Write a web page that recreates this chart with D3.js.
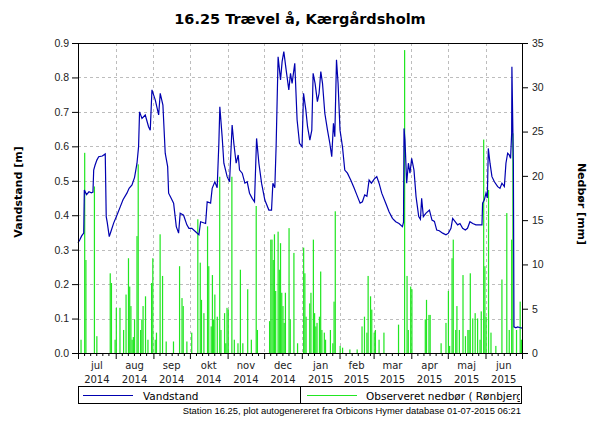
<!DOCTYPE html>
<html>
<head>
<meta charset="utf-8">
<script src="https://cdn.jsdelivr.net/npm/d3@7"></script>
<style>
body { margin: 0; background: #fff; }
svg { font-family: "DejaVu Sans", Verdana, sans-serif; }
</style>
</head>
<body>
<div id="chart"></div>
<script>
// water level, day offset from 1 jul 2014 -> metres
var levelDay = [0, 1.4, 3, 4.7, 5.2, 7, 9, 11, 12.3, 12.9, 14, 15.5, 17, 20, 22.4, 23.2, 24, 25.7, 27, 29.3,
  32, 34.8, 37, 40.2, 42, 44.4, 46.5, 48.5, 49.8, 50.6, 52.6, 55.3, 58, 59.4, 60.8, 63.5, 66.3, 67.6, 69.8, 71.7,
  73.7, 74.5, 76.5, 78.6, 80.8, 82.7, 84, 86.8, 89.5, 91.2, 93.6, 96.7, 99.4, 100.8, 104.9, 106.2, 109, 110.3, 112.5, 114.4,
  115.8, 116.6, 118.5, 119.9, 122.6, 124.6, 126.7, 128.1, 130, 131.7, 132.8, 135, 137.2, 139.1, 141, 143.2, 145.1, 146.8, 148.7, 150.9,
  153.6, 156.9, 159.1, 160.2, 161.8, 162.9, 164.5, 166.5, 167.8, 169.2, 171.1, 173.3, 174.7, 176, 178.2, 180.1, 182.1, 184.2, 185.4, 187.3,
  188.7, 190.6, 192.2, 193.3, 194.9, 196.8, 198.2, 199.6, 201, 202.9, 205.1, 207, 208.6, 210, 211.1, 212.5, 213.8, 215.4, 217.4, 219.3,
  221.5, 224.2, 226.9, 229.2, 231.9, 233.8, 235.7, 237.5, 239.3, 241.2, 243.5, 245.6, 247.5, 249.7, 253, 255.7, 258.5, 261.2, 263.9, 266.7,
  267.6, 268, 268.8, 270.2, 271.6, 272.9, 274.3, 276.2, 277.9, 280.1, 281.5, 282.5, 283.9, 286.1, 288.9, 291, 293, 294.9, 297, 299.8,
  302.5, 304.5, 306.6, 308, 310.2, 312.1, 314, 316.2, 318.4, 320.2, 322.2, 324.5, 327.1, 329.5, 332.1, 332.6, 334, 335.4, 336.5, 337.3,
  338.7, 340.3, 342.3, 345, 346.9, 348.5, 350.5, 351.8, 353.2, 354.5, 355.6, 356.5, 356.7, 357.9, 358.4, 360, 361.4, 363, 365]
var levelVal = [0.320, 0.328, 0.340, 0.348, 0.473, 0.460, 0.468, 0.465, 0.467, 0.531, 0.545, 0.560, 0.570, 0.572, 0.578, 0.396, 0.380, 0.338, 0.352, 0.377,
  0.400, 0.425, 0.445, 0.464, 0.478, 0.488, 0.510, 0.551, 0.599, 0.700, 0.681, 0.691, 0.657, 0.647, 0.764, 0.735, 0.691, 0.754, 0.720, 0.580,
  0.541, 0.464, 0.450, 0.435, 0.367, 0.348, 0.406, 0.400, 0.372, 0.362, 0.362, 0.352, 0.343, 0.381, 0.376, 0.439, 0.435, 0.478, 0.497, 0.480,
  0.609, 0.715, 0.628, 0.551, 0.512, 0.497, 0.662, 0.609, 0.551, 0.575, 0.531, 0.522, 0.493, 0.497, 0.464, 0.449, 0.439, 0.623, 0.551, 0.493,
  0.444, 0.415, 0.415, 0.493, 0.480, 0.604, 0.860, 0.793, 0.846, 0.875, 0.822, 0.764, 0.812, 0.783, 0.841, 0.677, 0.609, 0.599, 0.754, 0.706,
  0.657, 0.618, 0.647, 0.812, 0.783, 0.730, 0.754, 0.817, 0.783, 0.696, 0.647, 0.609, 0.570, 0.667, 0.628, 0.851, 0.783, 0.647, 0.599, 0.531,
  0.522, 0.502, 0.480, 0.459, 0.435, 0.439, 0.459, 0.455, 0.502, 0.493, 0.505, 0.512, 0.493, 0.464, 0.435, 0.410, 0.391, 0.381, 0.376, 0.367,
  0.380, 0.652, 0.618, 0.493, 0.551, 0.522, 0.565, 0.531, 0.454, 0.396, 0.388, 0.449, 0.396, 0.406, 0.415, 0.386, 0.382, 0.357, 0.355, 0.348,
  0.343, 0.348, 0.362, 0.391, 0.381, 0.372, 0.376, 0.362, 0.357, 0.362, 0.381, 0.376, 0.372, 0.372, 0.372, 0.435, 0.444, 0.464, 0.450, 0.594,
  0.551, 0.512, 0.497, 0.483, 0.478, 0.493, 0.483, 0.551, 0.580, 0.575, 0.565, 0.638, 0.831, 0.551, 0.076, 0.073, 0.076, 0.074, 0.072]

// observed precipitation, day offset -> mm
var rainDay = [2, 5, 6, 13, 15, 26, 27, 30, 31, 34, 37, 39, 41, 42, 43, 44, 45, 46, 48, 49,
  51, 52, 53, 55, 57, 60, 61, 63, 64, 67, 69, 72, 78, 83, 85, 86, 89, 93, 98, 100,
  101, 103, 106, 107, 109, 110, 111, 112, 114, 116, 117, 120, 121, 122, 123, 126, 128, 131, 133, 135,
  139, 142, 146, 147, 157, 158, 159, 160, 161, 162, 164, 165, 166, 167, 168, 169, 170, 173, 174, 177,
  180, 185, 186, 187, 190, 191, 193, 194, 195, 196, 198, 199, 200, 202, 203, 207, 209, 210, 211, 215,
  217, 223, 229, 233, 235, 237, 238, 240, 241, 243, 244, 247, 251, 263, 268, 270, 271, 273, 274, 285,
  286, 288, 289, 298, 302, 304, 305, 307, 308, 310, 311, 313, 316, 318, 320, 321, 322, 324, 326, 328,
  330, 331, 333, 334, 335, 337, 339, 343, 348, 352, 354, 356, 357, 360, 363, 364]
var rainMm = [1.5, 22.6, 10.5, 18.8, 1.9, 9.0, 7.9, 1.5, 5.1, 5.1, 2.6, 6.6, 10.7, 7.5, 5.3, 1.5, 1.8, 3.8, 13.2, 21.3,
  2.6, 3.8, 5.3, 6.4, 1.5, 7.9, 10.7, 1.5, 2.3, 13.4, 8.7, 1.3, 1.3, 9.8, 6.2, 5.3, 1.3, 2.3, 15.1, 10.2,
  6.0, 4.5, 14.3, 9.8, 3.0, 8.8, 3.8, 6.6, 4.1, 19.9, 2.6, 4.5, 1.1, 5.1, 4.9, 19.9, 1.5, 1.1, 9.4, 1.1,
  7.2, 1.5, 16.6, 2.6, 3.6, 12.8, 12.8, 10.5, 13.4, 7.0, 13.7, 9.4, 12.4, 6.8, 5.3, 3.4, 6.8, 14.1, 3.8, 11.3,
  1.1, 11.9, 9.0, 4.1, 5.6, 6.8, 12.8, 4.5, 3.0, 3.4, 4.1, 9.2, 2.6, 2.3, 1.5, 2.6, 1.1, 5.8, 16.0, 0.8,
  0.6, 0.4, 0.4, 3.0, 4.1, 2.3, 8.7, 6.4, 4.9, 2.3, 2.6, 1.5, 2.3, 3.2, 34.2, 8.7, 2.6, 7.5, 7.2, 3.8,
  6.0, 4.3, 4.3, 1.1, 3.4, 7.0, 0.8, 10.7, 12.8, 2.6, 5.3, 2.6, 8.8, 1.9, 2.6, 2.6, 9.0, 3.9, 4.5, 3.9,
  1.5, 4.7, 24.1, 9.8, 4.1, 18.4, 2.3, 0.8, 8.3, 15.8, 2.6, 12.8, 24.8, 2.6, 5.8, 1.5]

var monthNames = ["jul", "aug", "sep", "okt", "nov", "dec", "jan", "feb", "mar", "apr", "maj", "jun"]
var levelTicks = [0, 0.1, 0.2, 0.3, 0.4, 0.5, 0.6, 0.7, 0.8, 0.9]
var rainTicks = [0, 5, 10, 15, 20, 25, 30, 35]

var start = new Date(2014, 6, 1)
var end = new Date(2015, 6, 1)
var margin = { top: 43, bottom: 72, left: 78, right: 78 }
var W = 600, H = 425
var plotBottom = H - margin.bottom

var svg = d3.select("#chart").append("svg").attr("width", W).attr("height", H)

var x = d3.scaleTime().domain([start, end]).range([margin.left, W - margin.right])
var y = d3.scaleLinear().domain([0, 0.9]).range([plotBottom, margin.top])
var yR = d3.scaleLinear().domain([0, 35]).range([plotBottom, margin.top])

function dayDate(d) {
    return new Date(start.getTime() + d * 86400000)
}

// grid
var months = d3.timeMonth.range(start, end)
svg.append("g").selectAll("line").data(levelTicks.slice(1, -1)).enter().append("line")
    .attr("x1", margin.left).attr("x2", W - margin.right)
    .attr("y1", function(d) { return Math.round(y(d)) + 0.5 }).attr("y2", function(d) { return Math.round(y(d)) + 0.5 })
    .style("stroke", "#bdbdbd").style("stroke-dasharray", "3,3")
svg.append("g").selectAll("line").data(months.slice(1)).enter().append("line")
    .attr("x1", function(d) { return Math.round(x(d)) + 0.5 }).attr("x2", function(d) { return Math.round(x(d)) + 0.5 })
    .attr("y1", margin.top).attr("y2", plotBottom)
    .style("stroke", "#bdbdbd").style("stroke-dasharray", "3,3")

// rain bars
svg.append("g").selectAll("rect").data(rainDay).enter().append("rect")
    .attr("x", function(d) { return x(dayDate(d)) })
    .attr("width", function(d) { return x(dayDate(d + 1)) - x(dayDate(d)) })
    .attr("y", function(d, i) { return yR(rainMm[i]) })
    .attr("height", function(d, i) { return plotBottom - yR(rainMm[i]) })
    .style("fill", "#22e622")

// water level line
var line = d3.line()
    .x(function(d) { return x(dayDate(d)) })
    .y(function(d, i) { return y(levelVal[i]) })
svg.append("path").datum(levelDay).attr("d", line)
    .style("fill", "none").style("stroke", "#0000b0").style("stroke-width", 1.2)

// axes
var yAxis = svg.append("g").attr("transform", "translate(" + margin.left + ",0)")
    .call(d3.axisLeft(y).tickValues(levelTicks).tickFormat(d3.format(".1f")).tickSize(6).tickPadding(3))
var yAxisR = svg.append("g").attr("transform", "translate(" + (W - margin.right) + ",0)")
    .call(d3.axisRight(yR).tickValues(rainTicks).tickSize(6).tickPadding(4))
var minor = []
months.forEach(function(m) {
    [6, 11, 16, 21, 26].forEach(function(d) { minor.push(new Date(m.getFullYear(), m.getMonth(), d)) })
})
svg.append("g").attr("transform", "translate(0," + plotBottom + ")")
    .call(d3.axisBottom(x).tickValues(minor).tickSize(3).tickFormat(""))
var xAxis = svg.append("g").attr("transform", "translate(0," + plotBottom + ")")
    .call(d3.axisBottom(x).tickValues(months.concat([end])).tickSize(6).tickFormat(""))
svg.selectAll(".domain").style("stroke", "#000")
svg.selectAll(".tick line").style("stroke", "#000")
svg.selectAll(".tick text").style("font-size", "10.5px").style("fill", "#222")

// plot frame top
svg.append("line").attr("x1", margin.left).attr("x2", W - margin.right)
    .attr("y1", margin.top + 0.5).attr("y2", margin.top + 0.5).style("stroke", "#000")

// month labels
var lab = svg.append("g").selectAll("text").data(months).enter().append("text")
    .attr("text-anchor", "middle")
    .attr("x", function(d) { return (x(d) + x(d3.timeMonth.offset(d, 1))) / 2 })
    .style("font-size", "10px").style("fill", "#222")
lab.append("tspan").attr("y", 369).text(function(d, i) { return monthNames[i] })
lab.append("tspan").attr("y", 383)
    .attr("x", function(d) { return (x(d) + x(d3.timeMonth.offset(d, 1))) / 2 })
    .text(function(d) { return d.getFullYear() })

// titles
svg.append("text").attr("x", 300).attr("y", 24).attr("text-anchor", "middle")
    .style("font-size", "14.5px").style("font-weight", "bold").text("16.25 Trævel å, Kærgårdsholm")
svg.append("text").attr("transform", "translate(22,192) rotate(-90)").attr("text-anchor", "middle")
    .style("font-size", "11px").style("font-weight", "bold").text("Vandstand [m]")
svg.append("text").attr("transform", "translate(578,204) rotate(90)").attr("text-anchor", "middle")
    .style("font-size", "11px").style("font-weight", "bold").text("Nedbør [mm]")

// legend
svg.append("clipPath").attr("id", "legclip").append("rect")
    .attr("x", 78).attr("y", 386).attr("width", 442).attr("height", 18)
var leg = svg.append("g")
leg.append("rect").attr("x", 78.5).attr("y", 386.5).attr("width", 443).attr("height", 17)
    .style("fill", "none").style("stroke", "#000")
leg.append("line").attr("x1", 300.5).attr("x2", 300.5).attr("y1", 386.5).attr("y2", 403.5).style("stroke", "#000")
leg.append("line").attr("x1", 83).attr("x2", 133).attr("y1", 395.5).attr("y2", 395.5).style("stroke", "#0000b0")
leg.append("text").attr("x", 143).attr("y", 399.5).style("font-size", "10.5px").text("Vandstand")
leg.append("line").attr("x1", 307).attr("x2", 357).attr("y1", 395.5).attr("y2", 395.5).style("stroke", "#22e622")
leg.append("text").attr("x", 366).attr("y", 399.5).attr("clip-path", "url(#legclip)")
    .style("font-size", "10.5px").text("Observeret nedbør ( Rønbjerg )")

svg.append("text").attr("x", 521).attr("y", 414).attr("text-anchor", "end")
    .style("font-size", "9.4px").style("font-family", "'Liberation Sans', Arial, sans-serif")
    .text("Station 16.25, plot autogenereret fra Orbicons Hymer database 01-07-2015 06:21")
</script>
</body>
</html>
